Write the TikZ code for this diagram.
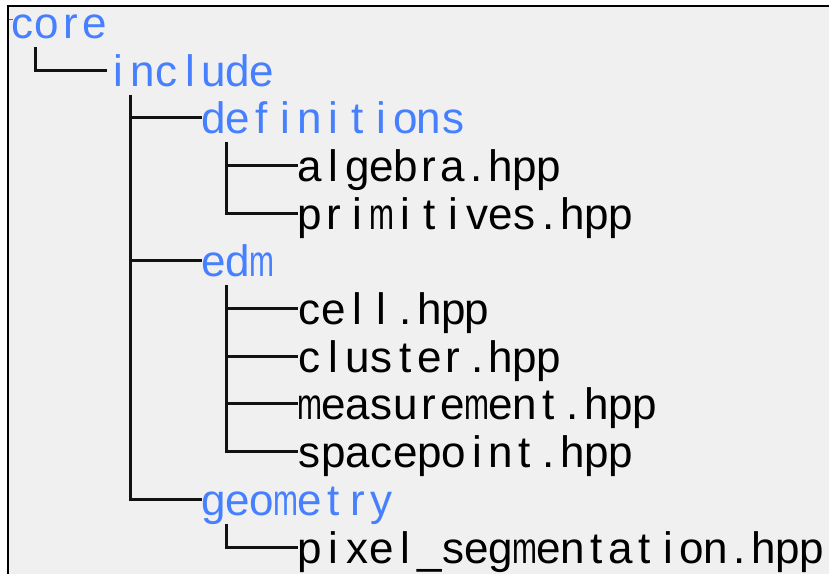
\documentclass[tikz,border=0pt]{standalone}
\usepackage{fontspec}
\usepackage{graphicx}
\setmainfont{Liberation Sans}

\definecolor{dirblue}{RGB}{70,128,255}
\definecolor{panelgray}{RGB}{240,240,240}

% fixed-pitch typesetting: every character sits in a cell of equal width
\newlength\cellw
\setlength\cellw{23.9pt}
\newcommand\treecell[1]{\makebox[\cellw][c]{\ifx m#1\scalebox{0.68}[1]{m}\else #1\fi}}
\def\treeloop#1{\ifx\relax#1\else\treecell{#1}\expandafter\treeloop\fi}
\newcommand\mono[1]{\treeloop#1\relax}

\tikzset{
  entry/.style={anchor=base west, inner sep=0pt, outer sep=0pt,
    text height=32pt, text depth=0pt, font=\fontsize{44}{44}\selectfont},
  dirname/.style={entry, text=dirblue},
  filename/.style={entry, text=black},
  branch/.style={line width=3pt, draw=black!93}
}

\begin{document}
\begin{tikzpicture}[x=1pt, y=-1pt]
  % page, panel and its frame
  \useasboundingbox (0,0) rectangle (829,574);
  \fill[white] (0,0) rectangle (829,574);
  \fill[panelgray] (8,6) rectangle (829,574);
  \draw[line width=2.2pt] (8,574) -- (8,6) -- (829,6);
  \draw[line width=1.4pt, black!60] (8.5,19.5) -- (12.5,19.5);

  % entries of the tree
  \node[dirname]  (core) at (10.8, 38.3)  {\mono{core}};
  \node[dirname]  (inc)  at (106.5, 86.0) {\mono{include}};
  \node[dirname]  (def)  at (202.2,133.7) {\mono{definitions}};
  \node[filename] (alg)  at (297.9,181.4) {\mono{algebra.hpp}};
  \node[filename] (prim) at (297.9,229.1) {\mono{primitives.hpp}};
  \node[dirname]  (edm)  at (202.2,276.8) {\mono{edm}};
  \node[filename] (cell) at (297.9,324.5) {\mono{cell.hpp}};
  \node[filename] (clus) at (297.9,372.2) {\mono{cluster.hpp}};
  \node[filename] (meas) at (297.9,419.9) {\mono{measurement.hpp}};
  \node[filename] (spac) at (297.9,467.6) {\mono{spacepoint.hpp}};
  \node[dirname]  (geo)  at (202.2,515.3) {\mono{geometry}};
  \node[filename] (pix)  at (297.9,563.0) {\mono{pixel\_segmentation.hpp}};

  % stems below each directory
  \coordinate (corestem) at ([xshift=24.2pt,yshift=-8.5pt]core.base west);
  \coordinate (incstem)  at ([xshift=24.2pt,yshift=-8.5pt]inc.base west);
  \coordinate (defstem)  at ([xshift=24.2pt,yshift=-8.5pt]def.base west);
  \coordinate (edmstem)  at ([xshift=24.2pt,yshift=-8.5pt]edm.base west);
  \coordinate (geostem)  at ([xshift=24.2pt,yshift=-8.5pt]geo.base west);

  % branches
  \draw[branch] (corestem) |- (inc.west);

  \draw[branch] (incstem) |- (geo.west);
  \draw[branch] (incstem |- def.west) -- (def.west);
  \draw[branch] (incstem |- edm.west) -- (edm.west);

  \draw[branch] (defstem) |- (prim.west);
  \draw[branch] (defstem |- alg.west) -- (alg.west);

  \draw[branch] (edmstem) |- (spac.west);
  \draw[branch] (edmstem |- cell.west) -- (cell.west);
  \draw[branch] (edmstem |- clus.west) -- (clus.west);
  \draw[branch] (edmstem |- meas.west) -- (meas.west);

  \draw[branch] (geostem) |- (pix.west);
\end{tikzpicture}
\end{document}
